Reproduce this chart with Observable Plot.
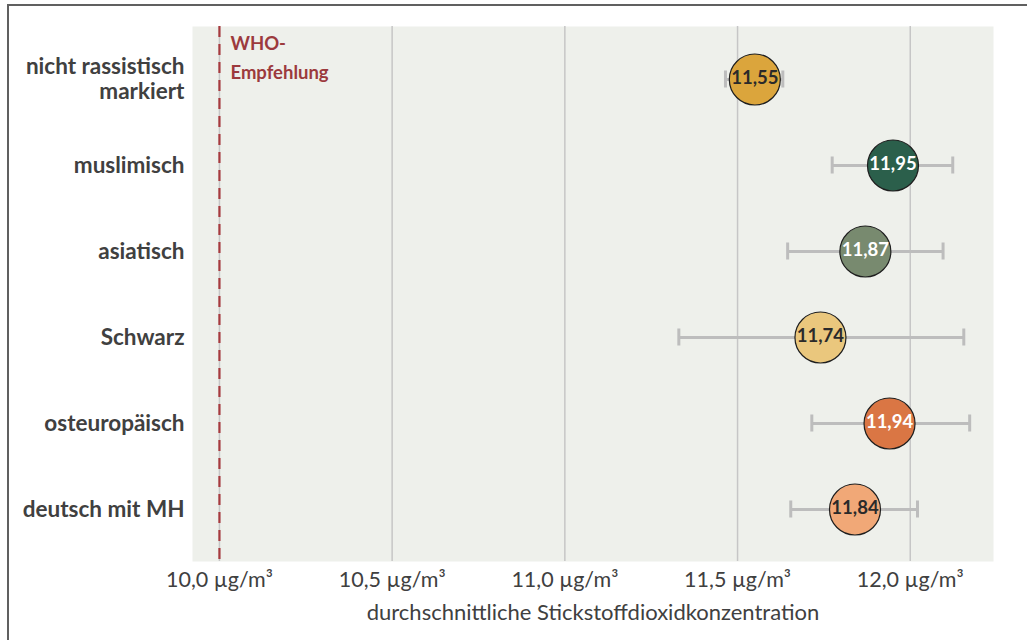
<!DOCTYPE html>
<html>
<head>
<meta charset="utf-8">
<script src="https://cdn.jsdelivr.net/npm/d3@7"></script>
<script src="https://cdn.jsdelivr.net/npm/@observablehq/plot@0.6"></script>
<style>
  html, body { margin: 0; padding: 0; background: #fff; }
  #wrap { position: relative; width: 1027px; height: 640px; overflow: hidden; }
  #frame { position: absolute; left: 7px; top: 4px; width: 1100px; height: 700px;
           border-left: 2.5px solid #606060; border-top: 2.5px solid #606060; pointer-events: none; }
  svg { font-family: Lato, "Open Sans", sans-serif; }
</style>
</head>
<body>
<div id="wrap"><div id="frame"></div></div>
<script>
const categories = ["nicht rassistisch\nmarkiert", "muslimisch", "asiatisch", "Schwarz", "osteuropäisch", "deutsch mit MH"];
const means = [11.55, 11.95, 11.87, 11.74, 11.94, 11.84];
const lower = [11.465, 11.774, 11.645, 11.330, 11.715, 11.654];
const upper = [11.631, 12.123, 12.095, 12.155, 12.172, 12.021];
const fills = ["#dba53c", "#2b5f4b", "#788a6f", "#eac77d", "#da7644", "#f1a877"];
const labelColors = ["#2a2a2a", "#ffffff", "#ffffff", "#2a2a2a", "#ffffff", "#2a2a2a"];
const xTicks = [10.0, 10.5, 11.0, 11.5, 12.0];
const whoValue = [10.0];
const whoLabel = "WHO-\nEmpfehlung";
const xLabel = "durchschnittliche Stickstoffdioxidkonzentration";

const rows = categories.map((c, i) => ({
  cat: c, mean: means[i], lo: lower[i], hi: upper[i], fill: fills[i], lc: labelColors[i],
  label: means[i].toFixed(2).replace(".", ",")
}));

const chart = Plot.plot({
  width: 1027,
  height: 640,
  marginLeft: 192,
  marginRight: 34,
  marginTop: 26,
  marginBottom: 79,
  style: { fontFamily: "Lato, 'Open Sans', sans-serif", background: "transparent" },
  x: { domain: [9.922, 12.241] },
  y: { type: "band", domain: categories, paddingInner: 0, paddingOuter: 0.1 },
  marks: [
    Plot.frame({ fill: "#eef0eb", stroke: null }),
    Plot.ruleX(xTicks, { stroke: "#c6c6c6", strokeWidth: 1.5 }),
    Plot.ruleX(whoValue, { stroke: "#a63a3e", strokeWidth: 2.2, strokeDasharray: "11,7" }),
    Plot.text(whoValue, { x: d => d, frameAnchor: "top", text: () => whoLabel, dx: 11, dy: 3,
      textAnchor: "start", lineAnchor: "top", lineHeight: 1.55, fill: "#9c3a3d", fontWeight: "bold", fontSize: 18.5 }),
    Plot.ruleY(rows, { y: "cat", x1: "lo", x2: "hi", stroke: "#bdbdbd", strokeWidth: 3 }),
    Plot.tickX(rows, { x: "lo", y: "cat", stroke: "#bdbdbd", strokeWidth: 3, insetTop: 34.5, insetBottom: 34.5 }),
    Plot.tickX(rows, { x: "hi", y: "cat", stroke: "#bdbdbd", strokeWidth: 3, insetTop: 34.5, insetBottom: 34.5 }),
    Plot.dot(rows, { x: "mean", y: "cat", r: 25.5, fill: "fill", stroke: "#1e1e1e", strokeWidth: 1.2 }),
    Plot.text(rows, { x: "mean", y: "cat", text: "label", fill: "lc", fontWeight: "bold", fontSize: 18.5, dy: -1 }),
    Plot.axisY({ tickSize: 0, tickPadding: 8, fontSize: 22.5, fontWeight: "bold", color: "#404040", label: null, lineHeight: 1.12, dy: -1 }),
    Plot.axisX(xTicks, { tickSize: 0, tickPadding: 10, fontSize: 21.5, color: "#404040", label: null,
      tickFormat: d => d.toFixed(1).replace(".", ",") + " µg/m³" }),
    Plot.text([xLabel], { frameAnchor: "bottom", lineAnchor: "middle", dy: 51, fontSize: 22, fill: "#404040" })
  ]
});
document.getElementById("wrap").insertBefore(chart, document.getElementById("frame"));
</script>
</body>
</html>
